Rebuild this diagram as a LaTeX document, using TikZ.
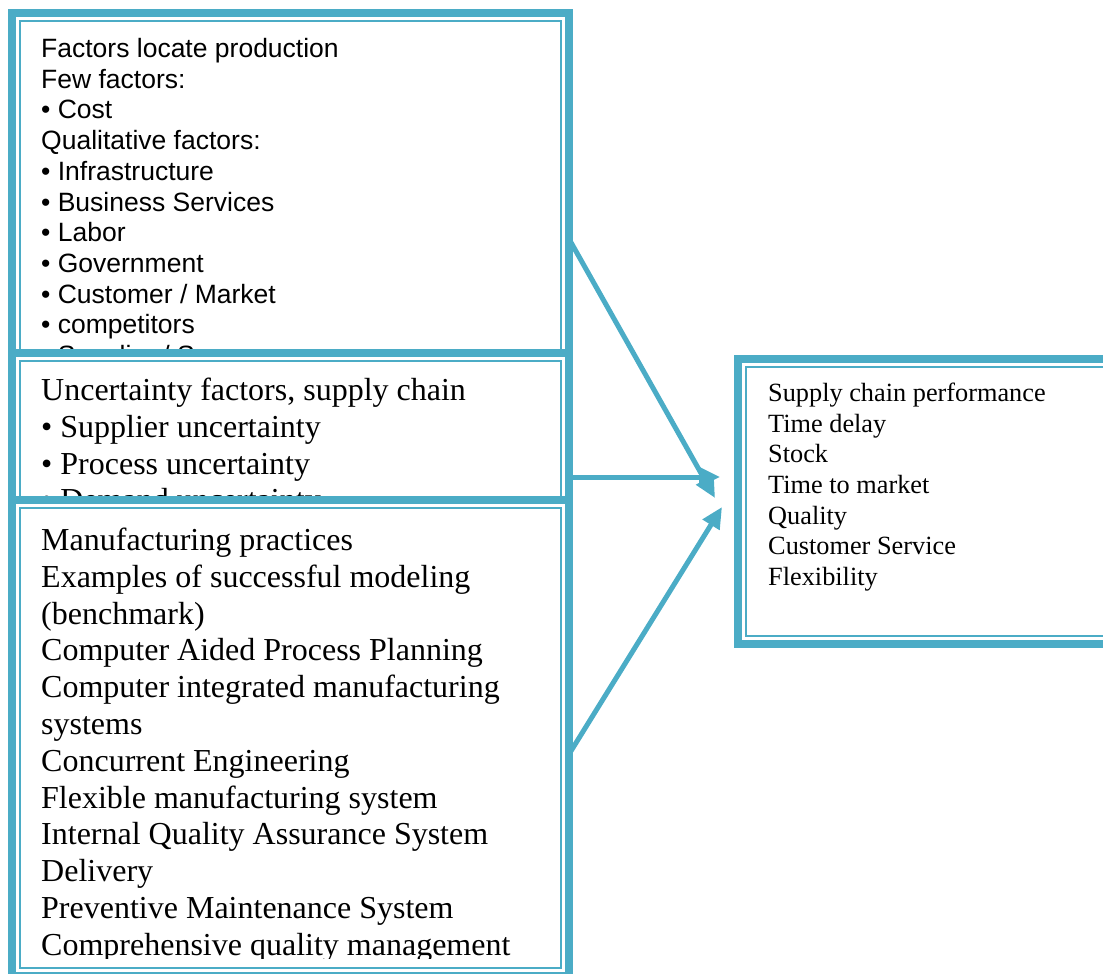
\documentclass[tikz,border=0pt]{standalone}
\usepackage{fontspec}
\setmainfont{Liberation Serif}
\newfontfamily\arialfont{Liberation Sans}
\usetikzlibrary{arrows.meta}
\definecolor{frameBlue}{RGB}{75,172,198}

\begin{document}
\begin{tikzpicture}[x=1pt, y=-1pt,
  frame/.style={rectangle, draw=frameBlue, line width=8pt, fill=white,
                inner sep=0pt, outer sep=0pt, anchor=north west,
                path picture={\draw[frameBlue, line width=2pt]
                  ([shift={(8pt,-8pt)}]path picture bounding box.north west) rectangle
                  ([shift={(-8pt,8pt)}]path picture bounding box.south east);}},
  % lists are anchored on the baseline of their last line
  sanslist/.style={anchor=base west, inner sep=0pt, align=left,
                   font=\arialfont\fontsize{26.5}{30.7}\selectfont},
  seriflist/.style={anchor=base west, inner sep=0pt, align=left,
                    font=\fontsize{32}{36.8}\selectfont},
  perf/.style={anchor=base west, inner sep=0pt, align=left,
               font=\fontsize{26.3}{30.6}\selectfont},
  arr/.style={-{Triangle[length=21pt, width=19pt]}, line width=5pt, frameBlue}
]
  \useasboundingbox (0,0) rectangle (1103,974);
  \def\boxw{557pt}

  \node[frame, minimum width=\boxw, minimum height=352pt] (F1) at (11.5,13.5) {};
  \node[sanslist] (T1) at ([shift={(29.5,351)}]F1.north west)
    {Factors locate production\\ Few factors:\\ • Cost\\ Qualitative factors:\\
     • Infrastructure\\ • Business Services\\ • Labor\\ • Government\\
     • Customer / Market\\ • competitors\\ • Supplier / Sources};

  \node[frame, minimum width=\boxw, minimum height=162pt] (F2) at (11.5,353) {};
  \node[seriflist] (T2) at ([shift={(29.5,157.9)}]F2.north west)
    {Uncertainty factors, supply chain\\ • Supplier uncertainty\\
     • Process uncertainty\\ • Demand uncertainty};

  \node[frame, minimum width=\boxw, minimum height=476pt] (F3) at (11.5,500) {};
  \begin{scope}
    \clip ([shift={(8pt,-8pt)}]F3.north west) rectangle ([shift={(-8pt,18pt)}]F3.south east);
    \node[seriflist] (T3) at ([shift={(29.5,455.3)}]F3.north west)
      {Manufacturing practices\\ Examples of successful modeling\\ (benchmark)\\
       Computer Aided Process Planning\\ Computer integrated manufacturing\\ systems\\
       Concurrent Engineering\\ Flexible manufacturing system\\
       Internal Quality Assurance System\\ Delivery\\
       Preventive Maintenance System\\ Comprehensive quality management};
  \end{scope}

  \node[frame, minimum width=382.5pt, minimum height=285.5pt] (F4) at (737.5,358.5) {};
  \node[perf] (T4) at ([shift={(30.5,226.8)}]F4.north west)
    {Supply chain performance\\ Time delay\\ Stock\\ Time to market\\
     Quality\\ Customer Service\\ Flexibility};

  \foreach \src/\dy/\tx/\ty in {F1/224.5/-22.5/-3.25, F2/124/-17.5/-24.25, F3/255/-15.5/5.75}
    \draw[arr] ([shift={(0,\dy)}]\src.north east) -- ([shift={(\tx,\ty)}]F4.west);
\end{tikzpicture}
\end{document}
